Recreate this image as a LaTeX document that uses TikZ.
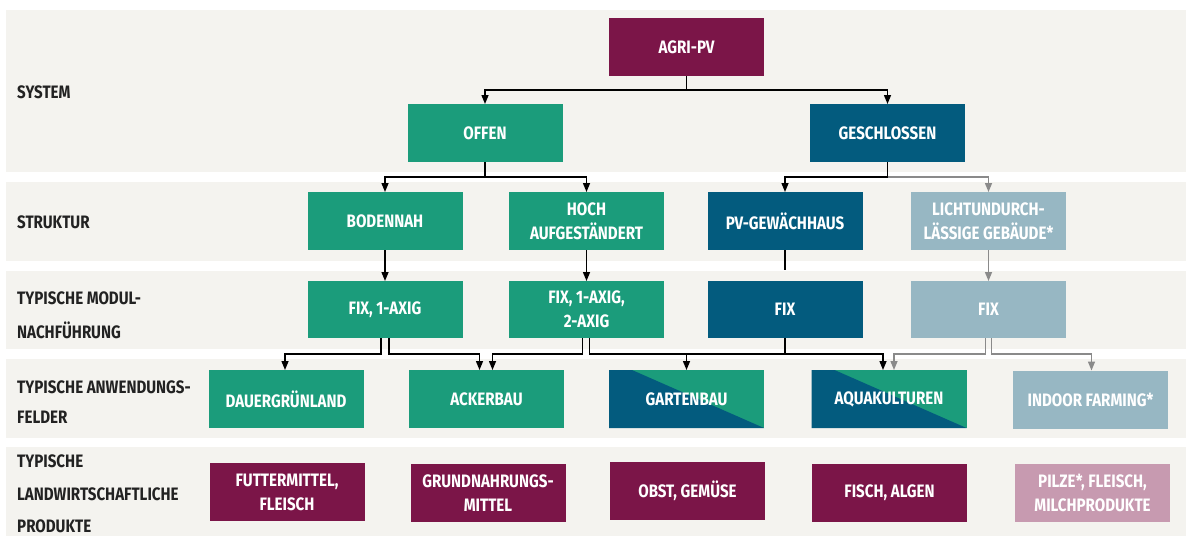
\documentclass[tikz,border=0pt]{standalone}
\usepackage{fontspec}
\setmainfont{Fira Sans}[FakeStretch=0.84]
\usetikzlibrary{arrows.meta}
\definecolor{maroon}{HTML}{7B1548}
\definecolor{agreen}{HTML}{1B9C7B}
\definecolor{dblue}{HTML}{035B7E}
\definecolor{lblue}{HTML}{97B7C3}
\definecolor{lpink}{HTML}{C79AB0}
\definecolor{band}{HTML}{F4F3EF}
\definecolor{garrow}{HTML}{8A8A8A}
\definecolor{labtext}{HTML}{222222}
\tikzset{
  box/.style={minimum width=155pt, minimum height=58pt, inner sep=0pt, outer sep=0pt,
    text=white, align=center, font=\bfseries\fontsize{18}{24}\selectfont},
  lab/.style={anchor=west, inner sep=0pt, text=labtext, font=\bfseries\fontsize{18}{20}\selectfont},
  arr/.style={line width=1.4pt, draw=black, -{Triangle[width=7pt,length=9pt]}},
  garr/.style={line width=1.4pt, draw=garrow, -{Triangle[width=7pt,length=9pt]}},
  plain/.style={line width=1.4pt, draw=black},
  bandbox/.style={fill=band, draw=none},
  split/.style={fill=agreen, path picture={
     \fill[dblue] (path picture bounding box.north west) -- ([xshift=23pt]path picture bounding box.north west)
       -- (path picture bounding box.south east) -- (path picture bounding box.south west) -- cycle;}}
}
\begin{document}
\begin{tikzpicture}[x=1pt,y=-1pt]
\useasboundingbox (0,0) rectangle (1186,536);
\fill[white] (0,0) rectangle (1186,536);
% bands
\path[bandbox] (6,10) rectangle (1186,172);
\path[bandbox] (6,182) rectangle (1186,261);
\path[bandbox] (6,271) rectangle (1186,349);
\path[bandbox] (6,359) rectangle (1186,438);
\path[bandbox] (6,447) rectangle (1186,536);
% labels
\node[lab] (l1) at (17,92) {SYSTEM};
\node[lab] (l2) at (17,222) {STRUKTUR};
\node[lab] (l3a) at (17,298) {TYPISCHE MODUL-};
\node[lab] (l3b) at (17,330) {NACHFÜHRUNG};
\node[lab] (l4a) at (17,387) {TYPISCHE ANWENDUNGS-};
\node[lab] (l4b) at (17,417) {FELDER};
\node[lab] (l5a) at (17,461) {TYPISCHE};
\node[lab] (l5b) at (17,494) {LANDWIRTSCHAFTLICHE};
\node[lab] (l5c) at (17,526) {PRODUKTE};
% row 1
\node[box, fill=maroon] (agri) at (686.5,47) {AGRI-PV};
\node[box, fill=agreen] (offen) at (485,133) {OFFEN};
\node[box, fill=dblue] (gesch) at (887.5,133) {GESCHLOSSEN};
% row 2
\node[box, fill=agreen] (boden) at (385,221) {BODENNAH};
\node[box, fill=agreen] (hoch) at (586.5,221) {HOCH\\AUFGESTÄNDERT};
\node[box, fill=dblue] (pvg) at (785,221) {PV-GEWÄCHHAUS};
\node[box, fill=lblue] (licht) at (988.5,221) {LICHTUNDURCH-\\LÄSSIGE GEBÄUDE*};
% row 3
\node[box, fill=agreen, minimum height=57pt] (fix1) at (385,309.5) {FIX, 1-AXIG};
\node[box, fill=agreen, minimum height=57pt] (fix2) at (586.5,309.5) {FIX, 1-AXIG,\\2-AXIG};
\node[box, fill=dblue, minimum height=57pt] (fixd) at (785,309.5) {FIX};
\node[box, fill=lblue, minimum height=57pt] (fixl) at (988.5,309.5) {FIX};
% row 4
\node[box, fill=agreen] (dauer) at (286,399) {DAUERGRÜNLAND};
\node[box, fill=agreen] (acker) at (486.5,399) {ACKERBAU};
\node[box, split] (garten) at (686.5,399) {GARTENBAU};
\node[box, split] (aqua) at (889,399) {AQUAKULTUREN};
\node[box, fill=lblue] (indoor) at (1090.5,399.5) {INDOOR FARMING*};
% row 5
\node[box, fill=maroon] (futter) at (287,492) {FUTTERMITTEL,\\FLEISCH};
\node[box, fill=maroon] (grund) at (488,493) {GRUNDNAHRUNGS-\\MITTEL};
\node[box, fill=maroon] (obst) at (687.5,490.5) {OBST, GEMÜSE};
\node[box, fill=maroon] (fisch) at (889.5,493) {FISCH, ALGEN};
\node[box, fill=lpink] (pilze) at (1092.5,493) {PILZE*, FLEISCH,\\MILCHPRODUKTE};
% connectors row 1
\draw[arr] (agri.south) -- ++(0,14) -| (offen.north);
\draw[arr] (agri.south) -- ++(0,14) -| (gesch.north);
% row 1 -> row 2
\draw[arr] (offen.south) -- ++(0,15) -| (boden.north);
\draw[arr] (offen.south) -- ++(0,15) -| (hoch.north);
\draw[garr] ([yshift=-15pt]gesch.south) -| (licht.north);
\draw[arr] (gesch.south) -- ++(0,15) -| (pvg.north);
% row 2 -> row 3
\coordinate (pvgend) at (785,270);
\draw[arr] (boden.south) -- (fix1.north);
\draw[arr] (hoch.south) -- (fix2.north);
\draw[plain] (pvg.south) -- (pvgend);
\draw[garr] (licht.south) -- (fixl.north);
% row 3 -> row 4
\draw[arr] ([xshift=-4pt]fix1.south) -- ++(0,16) -| ([xshift=-1pt]dauer.north);
\draw[arr] ([xshift=4pt]fix1.south) -- ++(0,16) -| ([xshift=-7pt]acker.north);
\draw[arr] ([xshift=-4pt]fix2.south) -- ++(0,16) -| ([xshift=6pt]acker.north);
\draw[garr] ([xshift=-3pt]fixl.south) -- ++(0,16) -| ([xshift=5pt]aqua.north);
\draw[garr] ([xshift=3pt]fixl.south) -- ++(0,16) -| ([xshift=1pt]indoor.north);
\draw[arr] ([xshift=3pt]fix2.south) -- ++(0,16) -| (garten.north);
\draw[arr] ([xshift=3pt]fix2.south) -- ++(0,16) -| ([xshift=-6pt]aqua.north);
\draw[plain] (fixd.south) -- ++(0,16);
\end{tikzpicture}
\end{document}
